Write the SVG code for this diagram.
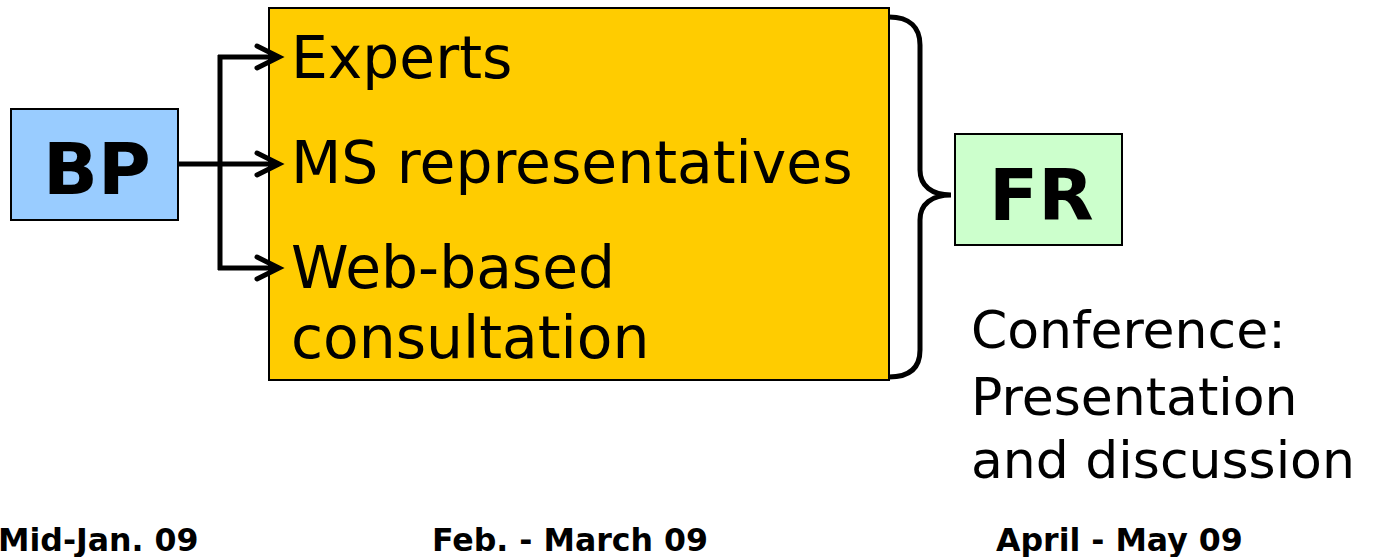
<svg xmlns="http://www.w3.org/2000/svg" width="1374" height="557" viewBox="0 0 1374 557">
<style>
.box{stroke:#000;stroke-width:2}
.lbl{font-family:"DejaVu Sans",Verdana,sans-serif;fill:#000}
.big{font-size:58.3px}
.mid{font-size:52px}
.bold{font-weight:bold}
.bp{font-size:72px}
.date{font-size:31.6px}
.conn{fill:none;stroke:#000;stroke-width:5;stroke-linejoin:miter}
.head{fill:none;stroke:#000;stroke-width:5;stroke-linecap:round;stroke-linejoin:miter}
</style>
<rect width="1374" height="557" fill="#fff"/>
<g id="node-BP">
<rect class="box" x="11" y="109" width="167" height="111" fill="#99CCFF"/>
<text class="lbl bold bp" x="43" y="194">BP</text>
</g>
<g id="node-activities">
<rect class="box" x="269" y="8" width="620" height="372" fill="#FFCC00"/>
<text class="lbl big" x="291" y="78">Experts</text>
<text class="lbl big" x="291" y="183">MS representatives</text>
<text class="lbl big" x="291" y="288">Web-based</text>
<text class="lbl big" x="291" y="358">consultation</text>
</g>
<g id="node-FR">
<rect class="box" x="955" y="134" width="167" height="111" fill="#CCFFCC"/>
<text class="lbl bold bp" x="989" y="220">FR</text>
</g>
<g id="node-conference">
<text class="lbl mid" x="971" y="348">Conference:</text>
<text class="lbl mid" x="971" y="415">Presentation</text>
<text class="lbl mid" x="971" y="478">and discussion</text>
</g>
<g id="dates">
<text class="lbl bold date" x="-2" y="551">Mid-Jan. 09</text>
<text class="lbl bold date" x="432" y="551">Feb. - March 09</text>
<text class="lbl bold date" x="996" y="551">April - May 09</text>
</g>
<g id="connectors">
<path class="conn" d="M178 164 H220 M220 55 V270 M218 57 H279 M220 164 H279 M218 268 H279"/>
<path class="head" d="M257 46 L279 57 L257 68 M257 153 L279 164 L257 175 M257 257 L279 268 L257 279"/>
<path class="conn" d="M889 17 C910 17 920 28 920 45 V170 C920 186 932 195 951 195 C932 195 920 204 920 220 V350 C920 368 910 377 889 377"/>
</g>
</svg>
